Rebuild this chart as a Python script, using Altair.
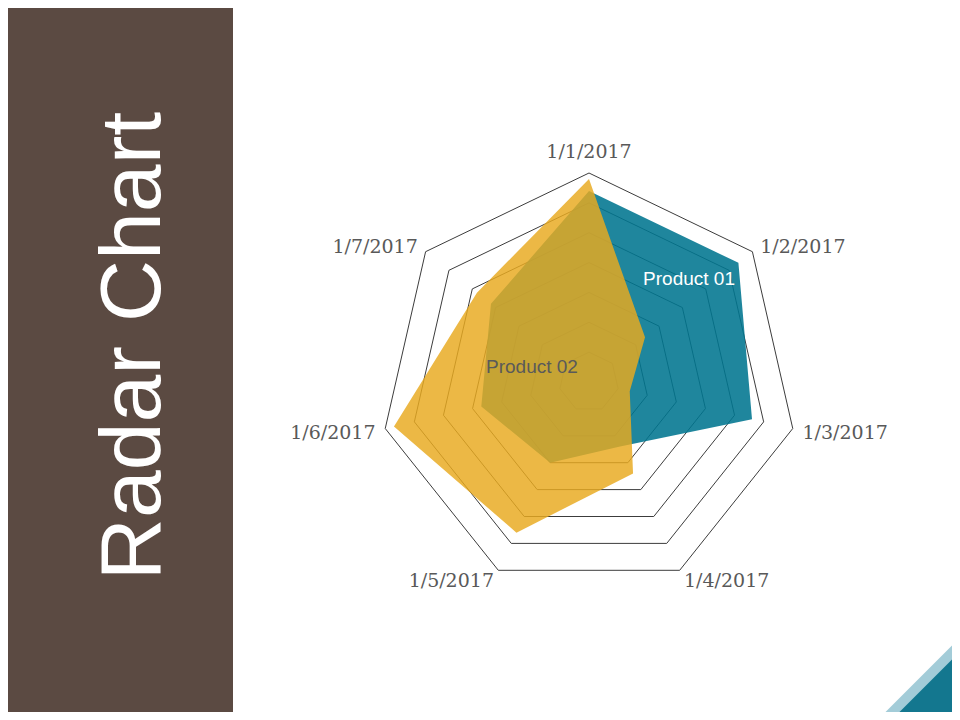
import math
import altair as alt
import pandas as pd

# ---------------- data ----------------
dates = ["1/1/2017", "1/2/2017", "1/3/2017", "1/4/2017", "1/5/2017", "1/6/2017", "1/7/2017"]
product_01 = [64, 64, 56, 24, 30, 37, 42]
product_02 = [68, 24, 14, 34, 56, 67, 48]
grid_levels = [10, 20, 30, 40, 50, 60, 70]
series_names = ["Product 01", "Product 02"]
series_label_x = [33.5, -19.1]
series_label_y = [34.5, 5.0]
title_text = "Radar Chart"

# ---------------- layout / style ----------------
N = len(dates)
MAX = 70
W, H = 944, 704
CX, CY, R = 581, 374, 209
k = MAX / R
XDOM = [-CX * k, (W - CX) * k]
YDOM = [-(H - CY) * k, CY * k]

BROWN = "#5B4A42"
BLUE = "#00758F"
GOLD = "#E8AA1F"
GRID = "#3C3C3C"
LABEL = "#595959"
LIGHT_TRI = "#A3CCD8"
TEAL_TRI = "#13778F"

xs = alt.Scale(domain=XDOM, nice=False, zero=False)
ys = alt.Scale(domain=YDOM, nice=False, zero=False)


def polar(chart, rfield="value"):
    return chart.transform_calculate(
        ang=f"2*PI*datum.idx/{N}"
    ).transform_calculate(
        x=f"datum.{rfield}*sin(datum.ang)",
        y=f"datum.{rfield}*cos(datum.ang)",
    )


series_df = pd.DataFrame(
    {
        "series": [series_names[0]] * N + [series_names[1]] * N,
        "idx": list(range(N)) * 2,
        "value": product_01 + product_02,
    }
)

grid_df = pd.DataFrame(
    [{"level": lv, "idx": i, "value": lv} for lv in grid_levels for i in range(N)]
)

label_df = pd.DataFrame({"date": dates, "idx": list(range(N))})

ann_df = pd.DataFrame({"series": series_names, "x": series_label_x, "y": series_label_y})

one = pd.DataFrame({"a": [0]})

# ---------------- layers ----------------
panel = alt.Chart(one).mark_rect(color=BROWN).encode(
    x=alt.value(0), x2=alt.value(225), y=alt.value(0), y2=alt.value(H)
)

title = alt.Chart(one).mark_text(
    text=title_text, angle=270, font="Liberation Sans", fontSize=86,
    color="white", align="center", baseline="alphabetic"
).encode(x=alt.value(152), y=alt.value(338))

tri_path = "M -1 1 L 1 -1 L 1 1 Z"
tri_light = alt.Chart(one).mark_point(
    shape=tri_path, filled=True, size=75 * 75, color=LIGHT_TRI, opacity=1, strokeWidth=0
).encode(x=alt.value(914.5), y=alt.value(667))
tri_teal = alt.Chart(one).mark_point(
    shape=tri_path, filled=True, size=70 * 70, color=TEAL_TRI, opacity=1, strokeWidth=0
).encode(x=alt.value(917), y=alt.value(678.5))

grid = polar(alt.Chart(grid_df)).mark_line(
    interpolate="linear-closed", color=GRID, strokeWidth=1
).encode(
    x=alt.X("x:Q", scale=xs, axis=None),
    y=alt.Y("y:Q", scale=ys, axis=None),
    detail="level:N",
    order="idx:Q",
)


def fill_layer(name, colour, op):
    return polar(
        alt.Chart(series_df).transform_filter(alt.datum.series == name)
    ).mark_line(
        interpolate="linear-closed", fill=colour, fillOpacity=op,
        stroke=colour, strokeOpacity=0, strokeWidth=0
    ).encode(
        x=alt.X("x:Q", scale=xs, axis=None),
        y=alt.Y("y:Q", scale=ys, axis=None),
        order="idx:Q",
    )


blue = fill_layer(series_names[0], BLUE, 0.88)
gold = fill_layer(series_names[1], GOLD, 0.83)


def label_layer(filter_expr, align, baseline, rr, dy=0):
    return polar(
        alt.Chart(label_df).transform_filter(filter_expr).transform_calculate(rr=f"{rr}"),
        rfield="rr",
    ).mark_text(
        font="DejaVu Serif", fontSize=19, color=LABEL, align=align, baseline=baseline, dy=dy
    ).encode(
        x=alt.X("x:Q", scale=xs, axis=None),
        y=alt.Y("y:Q", scale=ys, axis=None),
        text="date:N",
    )


lab_top = label_layer("datum.idx == 0", "center", "alphabetic", (R + 15) * k)
lab_right = label_layer("datum.idx >= 1 && datum.idx <= 3", "left", "middle", (R + 10) * k, dy=2)
lab_left = label_layer("datum.idx >= 4", "right", "middle", (R + 10) * k, dy=2)

ann = alt.Chart(ann_df).mark_text(
    font="Liberation Sans", fontSize=19, align="center", baseline="middle"
).encode(
    x=alt.X("x:Q", scale=xs, axis=None),
    y=alt.Y("y:Q", scale=ys, axis=None),
    text="series:N",
    color=alt.Color("series:N", scale=alt.Scale(domain=series_names, range=["#FFFFFF", "#5A5A5A"]), legend=None),
)

chart = alt.layer(
    panel, title, tri_light, tri_teal, grid, blue, gold, lab_top, lab_right, lab_left, ann
).properties(
    width=W, height=H, padding=0, autosize="none", background="white"
).configure_view(stroke=None)

chart.save("out.html", embed_options={"renderer": "svg", "actions": False})
